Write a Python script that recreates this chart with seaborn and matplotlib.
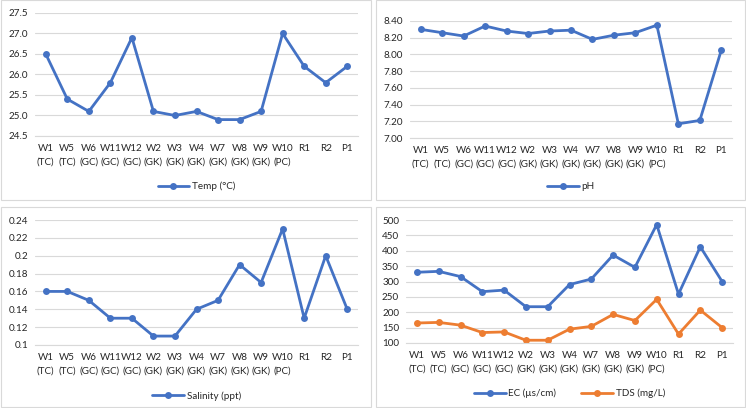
import numpy as np
import pandas as pd
import matplotlib
matplotlib.use("Agg")
import matplotlib.pyplot as plt
import seaborn as sns
from matplotlib.patches import Rectangle

# sampling sites (two-line tick labels)
sites = ["W1\n(TC)", "W5\n(TC)", "W6\n(GC)", "W11\n(GC)", "W12\n(GC)", "W2\n(GK)",
         "W3\n(GK)", "W4\n(GK)", "W7\n(GK)", "W8\n(GK)", "W9\n(GK)", "W10\n(PC)",
         "R1", "R2", "P1"]

temp = [26.5, 25.4, 25.1, 25.8, 26.9, 25.1, 25.0, 25.1, 24.9, 24.9, 25.1, 27.0, 26.2, 25.8, 26.2]
ph = [8.30, 8.26, 8.22, 8.34, 8.28, 8.25, 8.28, 8.29, 8.18, 8.23, 8.26, 8.35, 7.17, 7.21, 8.05]
salinity = [0.16, 0.16, 0.15, 0.13, 0.13, 0.11, 0.11, 0.14, 0.15, 0.19, 0.17, 0.23, 0.13, 0.20, 0.14]
ec = [330, 333, 316, 267, 272, 218, 218, 290, 308, 386, 346, 485, 259, 413, 300]
tds = [165, 167, 158, 134, 136, 109, 109, 145, 154, 193, 173, 242, 129, 207, 150]

BLUE = "#4472C4"
ORANGE = "#ED7D31"
TXT = "#262626"
FS = 7.1

sns.set_style("white")
plt.rcParams["font.family"] = ["Lato", "DejaVu Sans"]
plt.rcParams["font.size"] = FS

W, H = 746, 408
fig = plt.figure(figsize=(W / 100, H / 100), dpi=100)


def px_axes(left, right, top, bottom):
    return fig.add_axes([left / W, 1 - bottom / H, (right - left) / W, (bottom - top) / H])


def border(x0, y0, x1, y1):
    fig.patches.append(Rectangle((x0 / W, 1 - y1 / H), (x1 - x0) / W, (y1 - y0) / H,
                                 transform=fig.transFigure, fill=False,
                                 edgecolor="#D9D9D9", lw=0.8))


def style(ax, yticks, ylabels):
    ax.set_xlim(-0.5, len(sites) - 0.5)
    ax.set_ylim(yticks[0], yticks[-1])
    ax.set_yticks(yticks)
    ax.set_yticklabels(ylabels, fontsize=FS, color=TXT)
    ax.set_xticks(range(len(sites)))
    ax.set_xticklabels(sites, fontsize=FS, color=TXT, linespacing=1.6)
    ax.grid(axis="y", color="#D9D9D9", lw=0.8)
    ax.set_axisbelow(True)
    for s in ["top", "right", "left"]:
        ax.spines[s].set_visible(False)
    ax.spines["bottom"].set_color("#D9D9D9")
    ax.tick_params(axis="x", length=0, pad=6)
    ax.tick_params(axis="y", length=0, pad=5)
    ax.set_xlabel("")
    ax.set_ylabel("")


def legend(ax, ncol=1):
    ax.legend(loc="upper center", bbox_to_anchor=(0.5, -0.3), frameon=False, fontsize=FS,
              handlelength=3.2, handletextpad=0.3, ncol=ncol, columnspacing=2.5,
              labelcolor=TXT)


x = np.arange(len(sites))
kw = dict(marker="o", markersize=5, lw=2, markeredgewidth=0, clip_on=False)

border(0.5, 0.5, 371, 200)
border(376, 0.5, 745, 200)
border(0.5, 207, 371, 407)
border(376, 207, 745, 407)

# Temp
ax1 = px_axes(35, 358, 13, 136)
sns.lineplot(x=x, y=temp, ax=ax1, color=BLUE, label="Temp (°C)", **kw)
t_ticks = np.arange(24.5, 27.51, 0.5)
style(ax1, t_ticks, [f"{v:.1f}" for v in t_ticks])
legend(ax1)

# pH
ax2 = px_axes(410, 732, 21, 138)
sns.lineplot(x=x, y=ph, ax=ax2, color=BLUE, label="pH", **kw)
p_ticks = np.arange(7.0, 8.41, 0.2)
style(ax2, p_ticks, [f"{v:.2f}" for v in p_ticks])
legend(ax2)

# Salinity
ax3 = px_axes(35, 358, 220, 345)
sns.lineplot(x=x, y=salinity, ax=ax3, color=BLUE, label="Salinity (ppt)", **kw)
s_ticks = np.arange(0.10, 0.241, 0.02)
style(ax3, s_ticks, [f"{v:g}" for v in np.round(s_ticks, 2)])
legend(ax3)

# EC and TDS
ax4 = px_axes(406, 733, 220, 343)
sns.lineplot(x=x, y=ec, ax=ax4, color=BLUE, label="EC (µs/cm)", **kw)
sns.lineplot(x=x, y=tds, ax=ax4, color=ORANGE, label="TDS (mg/L)", **kw)
e_ticks = np.arange(100, 501, 50)
style(ax4, e_ticks, [str(v) for v in e_ticks])
legend(ax4, ncol=2)

fig.savefig("out.png", dpi=100)
